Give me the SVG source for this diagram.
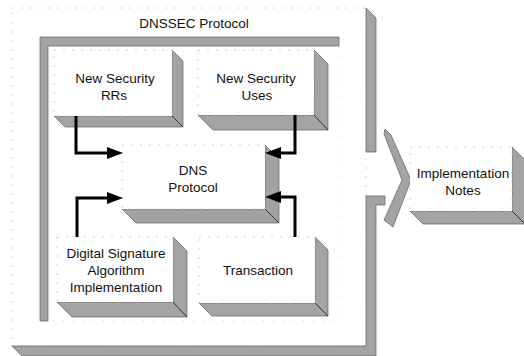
<svg xmlns="http://www.w3.org/2000/svg" width="524" height="356" viewBox="0 0 524 356">
  <defs>
    <marker id="head" viewBox="0 0 16 12" refX="8" refY="6" markerWidth="16" markerHeight="12" markerUnits="userSpaceOnUse" orient="auto">
      <path d="M0,0 L16,6 L0,12 Z" fill="#000"/>
    </marker>
    <style>
      .shade { fill: #a3a3a3; stroke: #5e5e5e; stroke-width: 0.7; }
      .face { fill: #fff; stroke: #c4c4c4; stroke-width: 0.8; stroke-dasharray: 2 7; }
      .corner { stroke: #333; stroke-width: 1; }
      .label { font-family: "Liberation Sans", Arial, sans-serif; font-size: 13.5px; fill: #111; text-anchor: middle; }
      .link { fill: none; stroke: #000; stroke-width: 3; marker-end: url(#head); }
    </style>
  </defs>

  <rect width="524" height="356" fill="#fff"/>

  <!-- outer raised panel with an opening that points right -->
  <g id="outer-panel">
    <rect class="face" x="12" y="8" width="354" height="338" stroke-dasharray="1 11"/>
    <polygon class="shade" points="366,8 376,18 376,152 366,152"/>
    <polygon class="shade" points="366,196 385,196 385,205 376,205 376,356 22,356 12,346 366,346"/>
    <polygon class="shade" points="385,129 391,135 411,180 393,227 384,220 402,180 384,134"/>
  </g>

  <!-- recessed DNSSEC Protocol area -->
  <g id="dnssec-protocol">
    <text class="label" x="194" y="28">DNSSEC Protocol</text>
    <polygon class="shade" points="40,37 339,37 339,46 48,46 48,321 40,321"/>
    <path d="M339,46 V321 H48" fill="none" stroke="#c4c4c4" stroke-width="0.8" stroke-dasharray="1 9"/>
  </g>

  <g id="new-security-rrs">
    <polygon class="shade" points="172,50 183,61 183,127 65,127 54,116 172,116"/>
    <line class="corner" x1="172" y1="116" x2="183" y2="127"/>
    <rect class="face" x="54" y="50" width="118" height="66"/>
    <text class="label" x="115" y="83">New Security</text>
    <text class="label" x="114" y="100">RRs</text>
  </g>

  <g id="new-security-uses">
    <polygon class="shade" points="314,50 328,64 328,130 213,130 198,115 314,115"/>
    <line class="corner" x1="314" y1="115" x2="328" y2="130"/>
    <rect class="face" x="198" y="50" width="116" height="65"/>
    <text class="label" x="256" y="83">New Security</text>
    <text class="label" x="257" y="100">Uses</text>
  </g>

  <g id="dns-protocol">
    <polygon class="shade" points="265,145 279,159 279,223 136,223 122,209 265,209"/>
    <line class="corner" x1="265" y1="209" x2="279" y2="223"/>
    <rect class="face" x="122" y="145" width="143" height="64"/>
    <text class="label" x="193" y="175">DNS</text>
    <text class="label" x="193" y="192">Protocol</text>
  </g>

  <g id="digital-signature">
    <polygon class="shade" points="173,237 187,251 187,317 72,317 57,302 173,302"/>
    <line class="corner" x1="173" y1="302" x2="187" y2="317"/>
    <rect class="face" x="57" y="237" width="116" height="65"/>
    <text class="label" x="116" y="258">Digital Signature</text>
    <text class="label" x="116" y="275">Algorithm</text>
    <text class="label" x="116" y="292">Implementation</text>
  </g>

  <g id="transaction">
    <polygon class="shade" points="315,237 328,250 328,316 212,316 199,303 315,303"/>
    <line class="corner" x1="315" y1="303" x2="328" y2="316"/>
    <rect class="face" x="199" y="237" width="116" height="66"/>
    <text class="label" x="258" y="275">Transaction</text>
  </g>

  <g id="implementation-notes">
    <polygon class="shade" points="512,147 525,160 525,224 423,224 410,211 512,211"/>
    <line class="corner" x1="512" y1="211" x2="525" y2="224"/>
    <rect class="face" x="410" y="147" width="102" height="64"/>
    <text class="label" x="463" y="178">Implementation</text>
    <text class="label" x="463" y="195">Notes</text>
  </g>

  <!-- connectors into DNS Protocol -->
  <g id="connectors">
    <path class="link" d="M76,116 V153 H115"/>
    <path class="link" d="M77,237 V198 H115"/>
    <path class="link" d="M295,115 V153 H273"/>
    <path class="link" d="M295,237 V197 H273"/>
  </g>
</svg>
